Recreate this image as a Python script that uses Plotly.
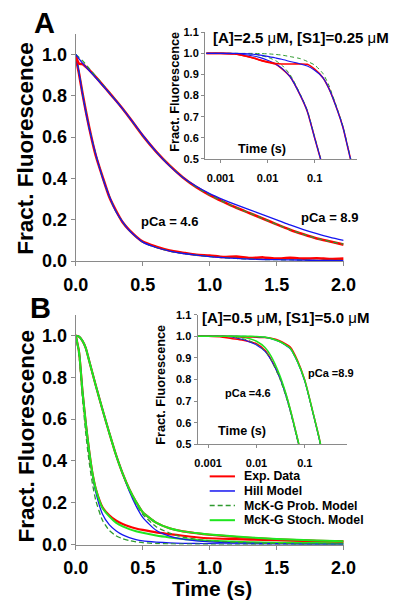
import plotly.graph_objects as go

W, H = 410, 612
FONT = "Liberation Sans, Arial, sans-serif"

# ---------------- Panel A, main (linear time) ----------------
TA = [0, 0.025, 0.05, 0.1, 0.15, 0.2, 0.25, 0.3, 0.35, 0.4, 0.5, 0.6, 0.7, 0.8,
      0.9, 1.0, 1.1, 1.2, 1.3, 1.4, 1.5, 1.6, 1.7, 1.8, 1.9, 2.0]
A_fast_exp = [0.985, 0.905, 0.812, 0.648, 0.51, 0.408, 0.312, 0.245, 0.188, 0.15, 0.094, 0.07,
              0.052, 0.041, 0.031, 0.027, 0.02, 0.022, 0.015, 0.018, 0.012, 0.016, 0.012, 0.014, 0.01, 0.012]
A_fast_hill = [1.0, 0.91, 0.81, 0.645, 0.515, 0.405, 0.315, 0.24, 0.19, 0.148, 0.092, 0.066,
               0.049, 0.037, 0.029, 0.022, 0.017, 0.013, 0.01, 0.008, 0.007, 0.006, 0.005, 0.004, 0.004, 0.003]
A_fast_prob = [1.0, 0.915, 0.815, 0.647, 0.515, 0.405, 0.315, 0.24, 0.19, 0.148, 0.092, 0.066,
               0.049, 0.037, 0.029, 0.022, 0.017, 0.013, 0.01, 0.008, 0.007, 0.006, 0.005, 0.004, 0.004, 0.003]
A_slow_exp = [0.99, 0.955, 0.953, 0.925, 0.89, 0.853, 0.815, 0.777, 0.737, 0.695, 0.607, 0.53,
              0.463, 0.405, 0.358, 0.32, 0.288, 0.258, 0.232, 0.205, 0.178, 0.152, 0.13, 0.11, 0.095, 0.08]
A_slow_hill = [1.0, 0.978, 0.958, 0.922, 0.887, 0.851, 0.814, 0.776, 0.737, 0.696, 0.609, 0.53,
               0.461, 0.405, 0.362, 0.327, 0.298, 0.272, 0.248, 0.224, 0.2, 0.175, 0.153, 0.133, 0.115, 0.10]
A_slow_prob = [1.0, 0.985, 0.97, 0.932, 0.893, 0.855, 0.816, 0.777, 0.737, 0.695, 0.607, 0.53,
               0.463, 0.405, 0.358, 0.32, 0.288, 0.258, 0.232, 0.205, 0.178, 0.152, 0.13, 0.11, 0.095, 0.082]

# ---------------- Panel A, inset (log time) ----------------
TIA = [0.0005, 0.001, 0.002, 0.003, 0.005, 0.007, 0.01, 0.015, 0.02, 0.03, 0.05, 0.07,
       0.1, 0.15, 0.2, 0.3, 0.4, 0.5, 0.6, 0.7, 0.8]
IA_fast_exp = [1, 1, 0.997, 0.99, 0.978, 0.968, 0.958, 0.948, 0.928, 0.89, 0.80, 0.725,
               0.60, 0.46, 0.36, 0.24, 0.15, 0.092, 0.068, 0.052, 0.04]
IA_fast_hill = [1, 1, 0.998, 0.995, 0.988, 0.98, 0.968, 0.95, 0.93, 0.89, 0.80, 0.725,
                0.60, 0.46, 0.36, 0.24, 0.15, 0.09, 0.065, 0.05, 0.04]
IA_fast_prob = [1, 1, 1, 0.999, 0.996, 0.99, 0.982, 0.965, 0.945, 0.90, 0.805, 0.73,
                0.605, 0.462, 0.36, 0.24, 0.15, 0.09, 0.065, 0.05, 0.04]
IA_slow_exp = [1, 1, 0.998, 0.99, 0.978, 0.968, 0.96, 0.952, 0.95, 0.95, 0.95, 0.948,
               0.925, 0.885, 0.835, 0.735, 0.65, 0.56, 0.485, 0.42, 0.36]
IA_slow_hill = [1, 1, 1, 0.999, 0.996, 0.992, 0.986, 0.978, 0.972, 0.962, 0.95, 0.94,
                0.92, 0.885, 0.835, 0.735, 0.65, 0.56, 0.485, 0.42, 0.36]
IA_slow_prob = [1, 1, 1, 1, 1, 0.999, 0.998, 0.995, 0.992, 0.985, 0.975, 0.962,
                0.945, 0.905, 0.85, 0.74, 0.655, 0.565, 0.49, 0.42, 0.36]

# ---------------- Panel B, main (linear time) ----------------
TB = [0, 0.025, 0.05, 0.075, 0.1, 0.125, 0.15, 0.2, 0.25, 0.3, 0.35, 0.4, 0.45, 0.5,
      0.6, 0.7, 0.8, 0.9, 1.0, 1.2, 1.4, 1.6, 1.8, 2.0]
B_fast_exp = [1.0, 0.92, 0.735, 0.58, 0.45, 0.34, 0.265, 0.178, 0.14, 0.115, 0.098, 0.086, 0.077, 0.07,
              0.058, 0.05, 0.042, 0.035, 0.03, 0.026, 0.022, 0.019, 0.016, 0.014]
B_fast_hill = [1.0, 0.92, 0.735, 0.58, 0.445, 0.335, 0.25, 0.145, 0.095, 0.066, 0.046, 0.033, 0.024, 0.018,
               0.012, 0.008, 0.006, 0.005, 0.004, 0.003, 0.002, 0.002, 0.001, 0.001]
B_fast_prob = [1.0, 0.9, 0.7, 0.53, 0.395, 0.29, 0.21, 0.115, 0.068, 0.042, 0.028, 0.019, 0.013, 0.009,
               0.005, 0.003, 0.002, 0.002, 0.001, 0.001, 0.001, 0.001, 0.001, 0.001]
B_fast_stoch = [1.0, 0.92, 0.735, 0.58, 0.45, 0.34, 0.265, 0.175, 0.135, 0.105, 0.087, 0.074, 0.064, 0.056,
                0.043, 0.034, 0.027, 0.022, 0.018, 0.013, 0.01, 0.008, 0.007, 0.006]
B_slow_exp = [1.0, 0.995, 0.975, 0.94, 0.88, 0.82, 0.76, 0.645, 0.535, 0.43, 0.34, 0.265, 0.205, 0.155,
              0.105, 0.078, 0.063, 0.054, 0.047, 0.036, 0.028, 0.022, 0.018, 0.015]
B_slow_hill = [1.0, 0.995, 0.975, 0.94, 0.88, 0.82, 0.76, 0.645, 0.535, 0.43, 0.34, 0.255, 0.185, 0.13,
               0.068, 0.04, 0.026, 0.018, 0.013, 0.008, 0.005, 0.003, 0.002, 0.002]
B_slow_prob = [1.0, 0.995, 0.975, 0.94, 0.88, 0.82, 0.76, 0.645, 0.535, 0.43, 0.34, 0.26, 0.195, 0.145,
               0.085, 0.055, 0.036, 0.025, 0.018, 0.01, 0.006, 0.004, 0.003, 0.002]
B_slow_stoch = [1.0, 0.995, 0.975, 0.94, 0.88, 0.82, 0.76, 0.645, 0.535, 0.43, 0.34, 0.265, 0.205, 0.155,
                0.105, 0.078, 0.063, 0.055, 0.048, 0.038, 0.03, 0.024, 0.019, 0.016]

# ---------------- Panel B, inset (log time) ----------------
TIB = [0.0005, 0.001, 0.002, 0.003, 0.005, 0.007, 0.01, 0.015, 0.02, 0.03, 0.04, 0.05,
       0.07, 0.1, 0.15, 0.2, 0.3, 0.5]
IB_fast_exp = [1, 1, 0.996, 0.99, 0.983, 0.976, 0.966, 0.935, 0.893, 0.813, 0.735, 0.66,
               0.528, 0.38, 0.25, 0.18, 0.11, 0.07]
IB_fast_hill = [1, 1, 1, 0.997, 0.986, 0.975, 0.96, 0.93, 0.89, 0.81, 0.73, 0.655,
                0.525, 0.38, 0.22, 0.13, 0.06, 0.02]
IB_fast_prob = [1, 1, 1, 0.998, 0.99, 0.98, 0.964, 0.932, 0.89, 0.805, 0.725, 0.65,
                0.52, 0.375, 0.21, 0.12, 0.05, 0.01]
IB_fast_stoch = [1, 1, 1, 1, 0.996, 0.99, 0.977, 0.948, 0.908, 0.822, 0.74, 0.662,
                 0.53, 0.385, 0.25, 0.18, 0.1, 0.05]
IB_slow_exp = [1, 1, 1, 0.999, 0.998, 0.997, 0.996, 0.994, 0.991, 0.98, 0.965, 0.95,
               0.89, 0.797, 0.64, 0.525, 0.33, 0.155]
IB_slow_hill = [1, 1, 1, 1, 1, 0.999, 0.998, 0.995, 0.989, 0.975, 0.958, 0.942,
                0.882, 0.79, 0.637, 0.52, 0.33, 0.13]
IB_slow_prob = [1, 1, 1, 1, 1, 1, 0.999, 0.996, 0.99, 0.976, 0.959, 0.943,
                0.883, 0.792, 0.638, 0.522, 0.33, 0.145]
IB_slow_stoch = [1, 1, 1, 1, 1, 1, 0.999, 0.996, 0.99, 0.976, 0.96, 0.945,
                 0.885, 0.795, 0.64, 0.525, 0.33, 0.16]

MAIN_XTICKS = [0, 0.5, 1.0, 1.5, 2.0]
MAIN_YTICKS = [0, 0.2, 0.4, 0.6, 0.8, 1.0]
INSET_XTICKS = [0.001, 0.01, 0.1]
INSET_XTEXT = ["0.001", "0.01", "0.1"]
INSET_YTICKS = [0.5, 0.6, 0.7, 0.8, 0.9, 1.0, 1.1]

LEGEND_NAMES = ["Exp. Data", "Hill Model", "McK-G Prob. Model", "McK-G Stoch. Model"]

RED = "#ff0000"
BLUE = "#1515f0"
DGREEN = "#2f9a2f"
LGREEN = "#1fe61f"
AXC = "#8a8a8a"

fig = go.Figure()


def add(x, y, xa, ya, color, width, dash=None):
    fig.add_trace(go.Scatter(
        x=x, y=y, xaxis=xa, yaxis=ya, mode="lines",
        line=dict(color=color, width=width, dash=dash, shape="spline", smoothing=0.6),
        showlegend=False, hoverinfo="skip"))


DASH = "5px,3px"
# Panel A main
for ex, hi, pr in [(A_fast_exp, A_fast_hill, A_fast_prob), (A_slow_exp, A_slow_hill, A_slow_prob)]:
    add(TA, ex, "x", "y", RED, 2.6)
    add(TA, pr, "x", "y", DGREEN, 1.3, DASH)
    add(TA, hi, "x", "y", BLUE, 1.3)
# Panel A inset
for ex, hi, pr in [(IA_fast_exp, IA_fast_hill, IA_fast_prob), (IA_slow_exp, IA_slow_hill, IA_slow_prob)]:
    add(TIA, ex, "x2", "y2", RED, 1.6)
    add(TIA, pr, "x2", "y2", DGREEN, 1.0, "4px,3px")
    add(TIA, hi, "x2", "y2", BLUE, 1.1)
# Panel B main
for ex, hi, pr, st in [(B_fast_exp, B_fast_hill, B_fast_prob, B_fast_stoch),
                       (B_slow_exp, B_slow_hill, B_slow_prob, B_slow_stoch)]:
    add(TB, ex, "x3", "y3", RED, 2.2)
    add(TB, hi, "x3", "y3", BLUE, 1.3)
    add(TB, pr, "x3", "y3", DGREEN, 1.3, DASH)
    add(TB, st, "x3", "y3", LGREEN, 2.0)
# Panel B inset
for ex, hi, pr, st in [(IB_fast_exp, IB_fast_hill, IB_fast_prob, IB_fast_stoch),
                       (IB_slow_exp, IB_slow_hill, IB_slow_prob, IB_slow_stoch)]:
    add(TIB, ex, "x4", "y4", RED, 1.5)
    add(TIB, hi, "x4", "y4", BLUE, 1.1)
    add(TIB, pr, "x4", "y4", DGREEN, 1.0, "4px,3px")
    add(TIB, st, "x4", "y4", LGREEN, 1.5)


def fx(px):
    return px / W


def fy(py):
    return 1 - py / H


main_tick = dict(family=FONT, size=18, color="black", weight="bold")
inset_tick = dict(family=FONT, size=11, color="black", weight="bold")

common = dict(showline=True, linecolor=AXC, linewidth=1, showgrid=False, zeroline=False,
              ticks="outside", tickcolor=AXC, mirror=False)

fig.update_layout(
    width=W, height=H, margin=dict(l=0, r=0, t=0, b=0),
    paper_bgcolor="white", plot_bgcolor="rgba(0,0,0,0)",
    showlegend=False,
    xaxis=dict(domain=[fx(67), fx(353)], range=[0, 2.0], anchor="y", tickvals=MAIN_XTICKS,
               tickformat=".1f", ticklen=4, tickfont=main_tick, ticklabelstandoff=3, **common),
    yaxis=dict(domain=[fy(262), fy(28.5)], range=[0, 1.1], anchor="x", tickvals=MAIN_YTICKS,
               tickformat=".1f", ticklen=4, tickfont=main_tick, ticklabelstandoff=0, **common),
    xaxis2=dict(domain=[fx(205), fx(367)], type="log", range=[-3.33, -0.105], anchor="y2",
                tickvals=INSET_XTICKS, ticktext=INSET_XTEXT, ticklen=3, tickfont=inset_tick,
                ticklabelstandoff=6, **common),
    yaxis2=dict(domain=[fy(157), fy(27)], range=[0.5, 1.1], anchor="x2", tickvals=INSET_YTICKS,
                tickformat=".1f", ticklen=3, tickfont=inset_tick, ticklabelstandoff=0, **common),
    xaxis3=dict(domain=[fx(67), fx(353)], range=[0, 2.0], anchor="y3", tickvals=MAIN_XTICKS,
                tickformat=".1f", ticklen=4, tickfont=main_tick, ticklabelstandoff=3, **common),
    yaxis3=dict(domain=[fy(553), fy(317)], range=[0, 1.1], anchor="x3", tickvals=MAIN_YTICKS,
                tickformat=".1f", ticklen=4, tickfont=main_tick, ticklabelstandoff=0, **common),
    xaxis4=dict(domain=[fx(197), fx(357)], type="log", range=[-3.22, -0.12], anchor="y4",
                tickvals=INSET_XTICKS, ticktext=INSET_XTEXT, ticklen=3, tickfont=inset_tick,
                ticklabelstandoff=6, **common),
    yaxis4=dict(domain=[fy(450), fy(317)], range=[0.5, 1.1], anchor="x4", tickvals=INSET_YTICKS,
                tickformat=".1f", ticklen=3, tickfont=inset_tick, ticklabelstandoff=0, **common),
)


def note(text, px, py, size, angle=0, anchor="center"):
    fig.add_annotation(text=text, x=fx(px), y=fy(py), xref="paper", yref="paper",
                       showarrow=False, textangle=angle, xanchor=anchor, yanchor="middle",
                       font=dict(family=FONT, size=size, color="black", weight="bold"))


MU = "<span style='font-weight:normal'>μ</span>"
note("A", 33.5, 17, 29)
note("B", 29, 310, 29)
note("Fract. Fluorescence", 14, 146.5, 22.5, -90)
note("Fract. Fluorescence", 14, 442, 22.5, -90)
note("Time (s)", 212, 598, 21)
note("Fract. Fluorescence", 173, 88, 12.7, -90)
note("Fract. Fluorescence", 158, 389, 12.7, -90)
note("Time (s)", 266, 147, 12.6)
note("Time (s)", 245, 436, 12.6)
note(f"[A]=2.5 {MU}M, [S1]=0.25 {MU}M", 307.5, 32, 15)
note(f"[A]=0.5 {MU}M, [S1]=5.0 {MU}M", 291, 320, 15)
note("pCa = 4.6", 166.7, 221.7, 13)
note("pCa = 8.9", 337.5, 216.7, 13)
note("pCa =4.6", 251, 397, 11)
note("pCa =8.9", 339, 377, 11)

# manual legend
LEG_COLORS = [RED, BLUE, DGREEN, LGREEN]
LEG_DASH = ["solid", "solid", "5px,3px", "solid"]
LEG_WIDTH = [2.0, 1.5, 1.5, 2.0]
for i, name in enumerate(LEGEND_NAMES):
    yy = 483 + 15 * i
    fig.add_shape(type="line", xref="paper", yref="paper", x0=fx(210), x1=fx(237),
                  y0=fy(yy), y1=fy(yy), line=dict(color=LEG_COLORS[i], width=LEG_WIDTH[i], dash=LEG_DASH[i]))
    note(name, 245, yy, 12.3, anchor="left")

fig.write_html("out.html", config={"displayModeBar": False, "staticPlot": True},
               post_script="document.body.style.margin='0';document.body.style.overflow='hidden';")
